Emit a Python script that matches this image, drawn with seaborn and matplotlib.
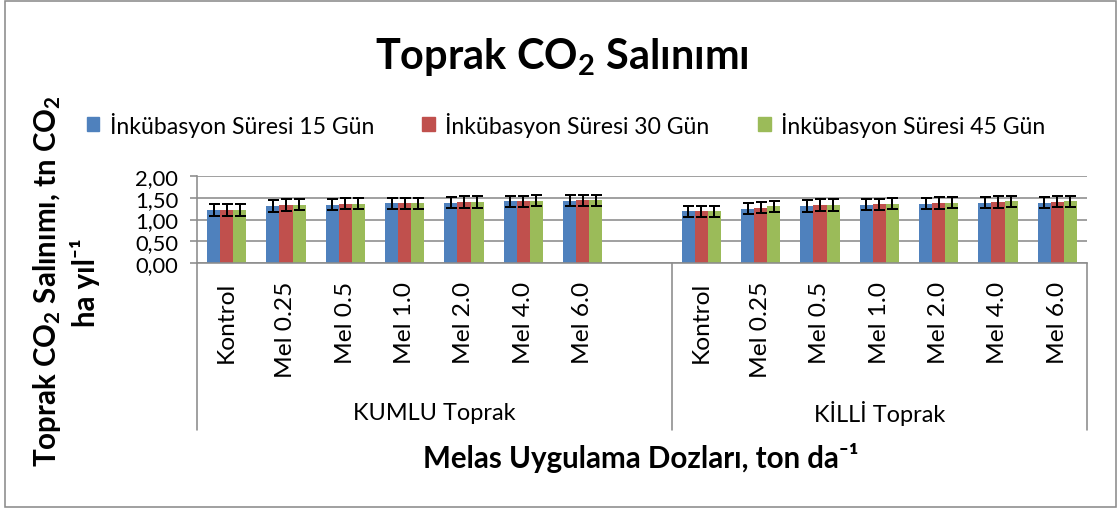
import numpy as np
import pandas as pd
import matplotlib
matplotlib.use("Agg")
import matplotlib.pyplot as plt
from matplotlib.patches import Rectangle
import seaborn as sns

# doses (category labels) and soil groups
doses = ["Kontrol", "Mel 0.25", "Mel 0.5", "Mel 1.0", "Mel 2.0", "Mel 4.0", "Mel 6.0"]
soils = ["KUMLU Toprak", "KİLLİ Toprak"]
series = ["İnkübasyon Süresi 15 Gün", "İnkübasyon Süresi 30 Gün", "İnkübasyon Süresi 45 Gün"]
colors = ["#4F81BD", "#C0504D", "#9BBB59"]

# CO2 emission values
kumlu_15 = [1.22, 1.31, 1.34, 1.37, 1.39, 1.42, 1.43]
kumlu_30 = [1.22, 1.33, 1.36, 1.37, 1.40, 1.42, 1.44]
kumlu_45 = [1.22, 1.34, 1.36, 1.37, 1.40, 1.43, 1.44]
killi_15 = [1.19, 1.25, 1.31, 1.34, 1.36, 1.39, 1.39]
killi_30 = [1.19, 1.27, 1.33, 1.35, 1.38, 1.40, 1.41]
killi_45 = [1.19, 1.30, 1.33, 1.36, 1.39, 1.42, 1.42]

# error bar half-widths
kumlu_err = [0.13, 0.13, 0.13, 0.13, 0.13, 0.13, 0.13]
killi_err = [0.13, 0.13, 0.13, 0.13, 0.13, 0.13, 0.13]

yticks = [0.0, 0.5, 1.0, 1.5, 2.0]
ytick_labels = ["0,00", "0,50", "1,00", "1,50", "2,00"]

PX = 0.72  # points per pixel at dpi=100

# build long table; an empty slot separates the two soil groups
rows = []
for soil, vals, err in [(soils[0], [kumlu_15, kumlu_30, kumlu_45], kumlu_err),
                        (soils[1], [killi_15, killi_30, killi_45], killi_err)]:
    for s, v in zip(series, vals):
        for d, val, e in zip(doses, v, err):
            rows.append({"slot": f"{soil}|{d}", "series": s, "value": val, "err": e})
df = pd.DataFrame(rows)
order = [f"{soils[0]}|{d}" for d in doses] + ["gap"] + [f"{soils[1]}|{d}" for d in doses]

sns.set_theme(style="white")
plt.rcParams["font.family"] = ["Lato", "DejaVu Sans"]
plt.rcParams["mathtext.default"] = "regular"
plt.rcParams["text.color"] = "black"

fig = plt.figure(figsize=(11.18, 5.10), dpi=100)
ax = fig.add_axes([197 / 1118, 1 - 264 / 510, (1087 - 197) / 1118, 87 / 510])

sns.barplot(data=df, x="slot", y="value", hue="series", order=order, hue_order=series,
            palette=colors, width=0.66, gap=0, errorbar=None, saturation=1,
            linewidth=0, ax=ax, legend=False)

# error bars on each bar
err_lookup = df.set_index(["slot", "series"])["err"]
for s, container in zip(series, ax.containers):
    xs, ys, es = [], [], []
    for bar in container:
        h = bar.get_height()
        if np.isnan(h):
            continue
        xc = bar.get_x() + bar.get_width() / 2
        slot = order[int(round(xc))]
        xs.append(xc)
        ys.append(h)
        es.append(err_lookup[(slot, s)])
    ax.errorbar(xs, ys, yerr=es, fmt="none", ecolor="black", elinewidth=2 * PX,
                capsize=5.5 * PX, capthick=2 * PX, zorder=5)

ax.set_xlim(-0.5, len(order) - 0.5)
ax.set_ylim(0, 2)
ax.set_yticks(yticks)
ax.set_yticklabels(ytick_labels, fontsize=22 * PX, color="black")
ax.yaxis.grid(True, color="#8C8C8C", lw=1.6 * PX)
ax.set_axisbelow(True)
ax.tick_params(axis="y", length=7 * PX, width=1.6 * PX, color="#8C8C8C", pad=12 * PX, left=True)
ax.set_xticks([i for i, o in enumerate(order) if o != "gap"])
ax.set_xticklabels(doses + doses, rotation=90, fontsize=24.5 * PX, va="top", ha="center", color="black")
ax.tick_params(axis="x", length=0, pad=18 * PX)
ax.set_xlabel("")
ax.set_ylabel("")
for side in ["top", "right"]:
    ax.spines[side].set_visible(False)
for side in ["left", "bottom"]:
    ax.spines[side].set_color("#8C8C8C")
    ax.spines[side].set_linewidth(1.6 * PX)

# multi-level category dividers
trans = matplotlib.transforms.blended_transform_factory(ax.transData, ax.transAxes)
depth = -(431 - 264) / 87
for xd in [-0.5, 7.5, len(order) - 0.5]:
    ax.plot([xd, xd], [0, depth], color="#8C8C8C", lw=1.6 * PX, transform=trans, clip_on=False)
ax.text(3.5, -(414 - 264) / 87, soils[0], transform=trans, ha="center", va="center", fontsize=23.5 * PX)
ax.text(11, -(414 - 264) / 87, soils[1], transform=trans, ha="center", va="center", fontsize=23.5 * PX)

# titles
fig.text(562 / 1118, 1 - 57 / 510, "Toprak CO$_{2}$ Salınımı", ha="center", va="center",
         fontsize=41.5 * PX, fontweight="bold")
fig.text(641 / 1118, 1 - 458 / 510, "Melas Uygulama Dozları, ton da⁻¹", ha="center",
         va="center", fontsize=29.5 * PX, fontweight="bold")
fig.text(47 / 1118, 1 - 281 / 510, "Toprak CO$_{2}$ Salınımı, tn CO$_{2}$", rotation=90,
         ha="center", va="center", fontsize=29.5 * PX, fontweight="bold")
fig.text(85 / 1118, 1 - 283 / 510, "ha yıl⁻¹", rotation=90,
         ha="center", va="center", fontsize=29.5 * PX, fontweight="bold")

# legend
handles = [Rectangle((0, 0), 1, 1, color=c) for c in colors]
fig.legend(handles, series, loc="center", bbox_to_anchor=(566 / 1118, 1 - 125 / 510), ncol=3,
           frameon=False, fontsize=23 * PX, handlelength=0.55, handleheight=0.55,
           handletextpad=0.45, columnspacing=2.1)

# outer chart border
fig.patches.append(Rectangle((5 / 1118, 2 / 510), 1111 / 1118, 506 / 510, transform=fig.transFigure,
                             fill=False, edgecolor="#8C8C8C", lw=1.6 * PX))

fig.savefig("out.png", dpi=100)
